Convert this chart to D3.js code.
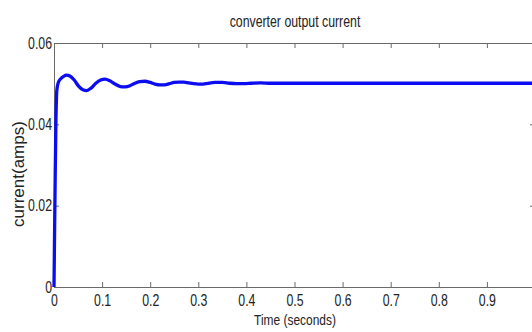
<!DOCTYPE html>
<html lang="en">
	<head>
		<meta charset="utf-8">
		<title>converter output current</title>
		<script src="https://d3js.org/d3.v7.min.js"></script>
		<style>
			body { margin: 0; background: #fff; }
			text { font-family: "Liberation Sans", Arial, sans-serif; fill: #222; }
		</style>
	</head>
	<body>
		<div id="chart"></div>
		<script type="text/javascript">
		var w = 532
		var h = 332
		var padding = {top: 43, left: 54, right: 535, bottom: 287} // plot box edges (right edge runs off the window)
		var squeeze = 0.77 // the picture's text is horizontally squeezed

		// time (s) and current (A)
		var timeList = [0, 0.002, 0.004, 0.006, 0.009, 0.014, 0.02, 0.026, 0.033, 0.042, 0.051, 0.06, 0.068, 0.077, 0.087,
			0.097, 0.106, 0.116, 0.127, 0.138, 0.148, 0.158, 0.168, 0.178, 0.189, 0.2, 0.21, 0.22, 0.23, 0.24, 0.25,
			0.26, 0.27, 0.28, 0.29, 0.3, 0.31, 0.32, 0.335, 0.35, 0.365, 0.38, 0.395, 0.41, 0.43, 0.45, 0.48, 0.52,
			0.6, 0.7, 0.8, 0.9, 1.0]
		var currentList = [0, 0.022, 0.041, 0.0485, 0.0503, 0.0512, 0.0518, 0.0521, 0.0519, 0.0509, 0.0494, 0.0485, 0.0483, 0.0489, 0.0501,
			0.0509, 0.0511, 0.0507, 0.0499, 0.0493, 0.0492, 0.0495, 0.0501, 0.0505, 0.0506, 0.0503, 0.0499, 0.0497, 0.0497, 0.05, 0.0503,
			0.0504, 0.0504, 0.0502, 0.05, 0.0499, 0.0499, 0.0501, 0.0503, 0.0503, 0.0501, 0.05, 0.05, 0.0501, 0.0502, 0.0501, 0.0501, 0.0501,
			0.0501, 0.0501, 0.0501, 0.0501, 0.0501]
		var xTicks = [0, 0.1, 0.2, 0.3, 0.4, 0.5, 0.6, 0.7, 0.8, 0.9, 1]
		var xTickLabels = ['0', '0.1', '0.2', '0.3', '0.4', '0.5', '0.6', '0.7', '0.8', '0.9', ''] // "1" falls off the picture
		var yTicks = [0, 0.02, 0.04, 0.06]
		var yTickLabels = ['0', '0.02', '0.04', '0.06']

		var data = timeList.map((t, i) => ({t: t, v: currentList[i]}))

		var svg = d3.select('#chart').append('svg').attr('width', w).attr('height', h)

		var xScale = d3.scaleLinear().domain([0, 1]).range([padding.left, padding.right])
		var yScale = d3.scaleLinear().domain([0, 0.06]).range([padding.bottom, padding.top])

		/* 坐标轴 */
		var xAxis = d3.axisBottom(xScale).tickValues(xTicks).tickFormat((d, i) => xTickLabels[i])
			.tickSizeInner(-5).tickSizeOuter(0).tickPadding(8)
		var yAxis = d3.axisLeft(yScale).tickValues(yTicks).tickFormat((d, i) => yTickLabels[i])
			.tickSizeInner(-5).tickSizeOuter(0).tickPadding(2)
		var xTop = d3.axisTop(xScale).tickValues(xTicks).tickSizeInner(-5).tickSizeOuter(0).tickFormat('')
		var yRight = d3.axisRight(yScale).tickValues(yTicks).tickSizeInner(-5).tickSizeOuter(0).tickFormat('')

		var gx = svg.append('g').attr('transform', 'translate(0,' + padding.bottom + ')').call(xAxis)
		var gy = svg.append('g').attr('transform', 'translate(' + padding.left + ',0)').call(yAxis)
		svg.append('g').attr('transform', 'translate(0,' + padding.top + ')').call(xTop)
		svg.append('g').attr('transform', 'translate(' + padding.right + ',0)').call(yRight)

		svg.selectAll('.domain, .tick line').attr('stroke', '#6a6a6a').attr('stroke-width', 1)
		svg.selectAll('.tick text').attr('font-family', null).attr('font-size', null)
			.style('font-size', '16px').attr('fill', '#222')
		gx.selectAll('.tick text').attr('transform', 'scale(' + squeeze + ',1)')
		gy.selectAll('.tick text').attr('x', -2 / squeeze).attr('transform', 'scale(' + squeeze + ',1)')

		/* 曲线 */
		svg.append('path').datum(data)
			.attr('d', d3.line().x(d => xScale(d.t)).y(d => yScale(d.v)).curve(d3.curveMonotoneX))
			.attr('fill', 'none').attr('stroke', '#0c0cf0').attr('stroke-width', 3.3)
			.attr('stroke-linejoin', 'round')

		/* 文字 */
		svg.append('text').attr('transform', 'translate(295,27) scale(' + squeeze + ',1)')
			.attr('text-anchor', 'middle').style('font-size', '16px').text('converter output current')
		svg.append('text').attr('transform', 'translate(295,325) scale(' + squeeze + ',1)')
			.attr('text-anchor', 'middle').style('font-size', '15.5px').text('Time (seconds)')
		svg.append('text').attr('transform', 'translate(24,174) rotate(-90)')
			.attr('text-anchor', 'middle').style('font-size', '17px').text('current(amps)')
		</script>
	</body>
</html>
